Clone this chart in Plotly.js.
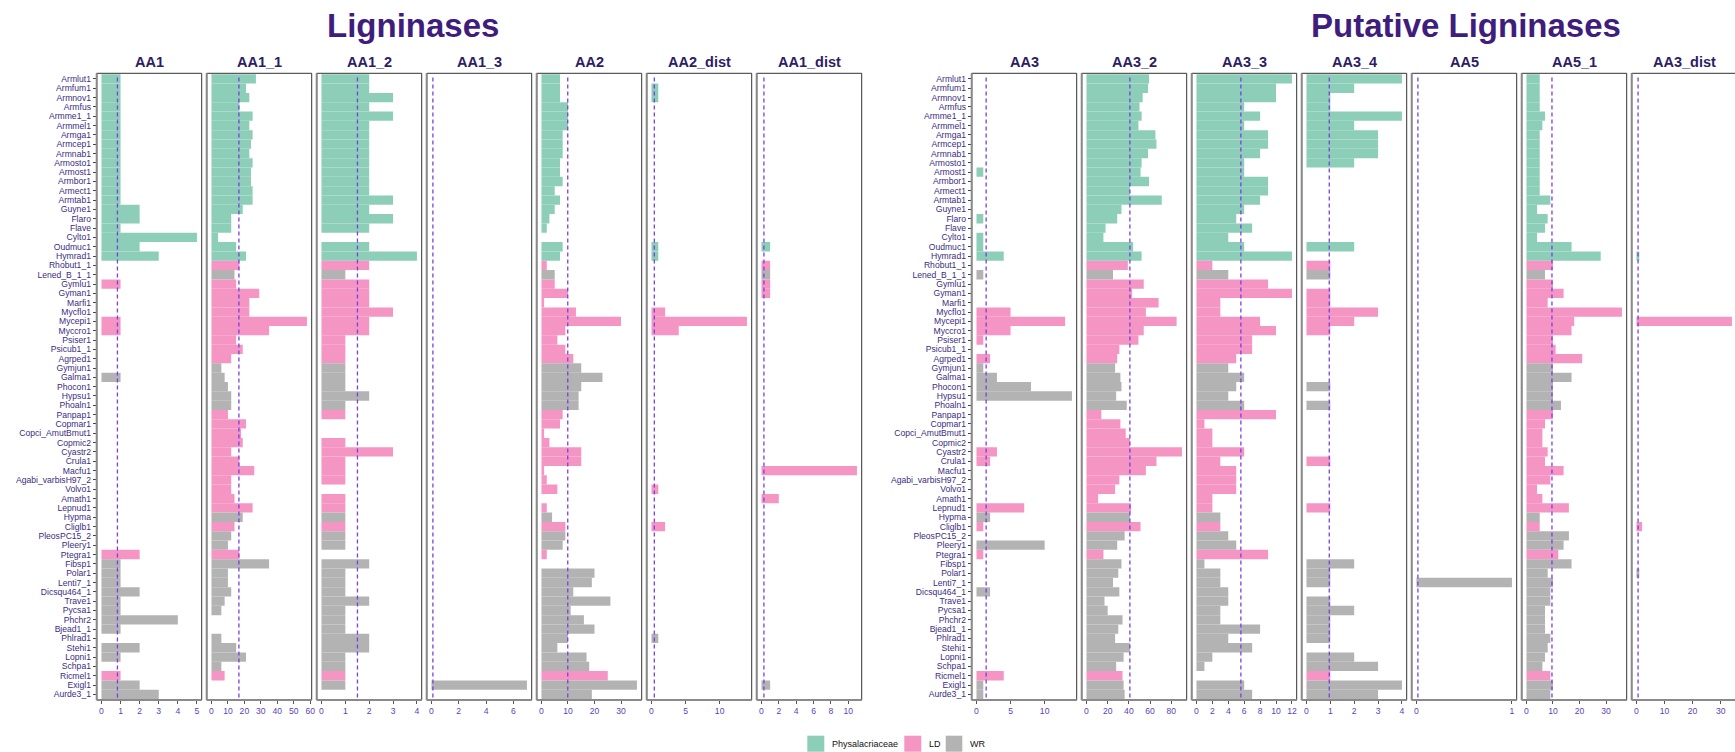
<!DOCTYPE html>
<html><head><meta charset="utf-8">
<script src="https://cdn.plot.ly/plotly-3.0.1.min.js"></script>
<style>html,body{margin:0;padding:0;overflow:hidden;background:#fff}#chart{width:1745px;height:752px}</style>
</head><body><div id="chart"></div>
<script>
const species = ["Armlut1","Armfum1","Armnov1","Armfus","Armme1_1","Armmel1","Armga1","Armcep1","Armnab1","Armosto1","Armost1","Armbor1","Armect1","Armtab1","Guyne1","Flaro","Flave","Cylto1","Oudmuc1","Hymrad1","Rhobut1_1","Lened_B_1_1","Gymlu1","Gyman1","Marfi1","Mycflo1","Mycepi1","Myccro1","Psiser1","Psicub1_1","Agrped1","Gymjun1","Galma1","Phocon1","Hypsu1","Phoaln1","Panpap1","Copmar1","Copci_AmutBmut1","Copmic2","Cyastr2","Crula1","Macfu1","Agabi_varbisH97_2","Volvo1","Amath1","Lepnud1","Hypma","Cliglb1","PleosPC15_2","Pleery1","Ptegra1","Fibsp1","Polar1","Lenti7_1","Dicsqu464_1","Trave1","Pycsa1","Phchr2","Bjead1_1","Phlrad1","Stehi1","Lopni1","Schpa1","Ricmel1","Exigl1","Aurde3_1"];
const P="Physalacriaceae", L="LD", R="WR";
const groups = [P,P,P,P,P,P,P,P,P,P,P,P,P,P,P,P,P,P,P,P,
 L,R,L,L,L,L,L,L,L,L,L,R,R,R,R,R,
 L,L,L,L,L,L,L,L,L,L,L,R,L,R,R,L,
 R,R,R,R,R,R,R,R,R,R,R,R,L,R,R];
const groupNames = [P, L, R];

const panelNames = ["AA1","AA1_1","AA1_2","AA1_3","AA2","AA2_dist","AA1_dist","AA3","AA3_2","AA3_3","AA3_4","AA5","AA5_1","AA3_dist"];

const AA1 = [1,1,1,1,1,1,1,1,1,1,1,1,1,1,2,2,1,5,2,3, 0,0,1,0,0,0,1,1,0,0,0,0,1,0,0,0, 0,0,0,0,0,0,0,0,0,0,0,0,0,0,0,2, 1,1,1,2,1,1,4,1,0,2,1,0,1,2,3];
const AA1_1 = [27,21,23,17,25,23,25,24,23,25,24,24,25,25,19,12,12,4,15,21, 17,14,15,29,23,23,58,35,15,19,12,6,8,10,12,12, 10,21,18,19,12,17,26,12,12,14,25,19,14,12,10,17, 35,10,10,12,8,6,0,0,6,15,21,6,8,0,0];
const AA1_2 = [2,2,3,2,3,2,2,2,2,2,2,2,2,3,2,3,2,0,2,4, 2,1,2,2,2,3,2,2,1,1,1,1,1,1,2,1, 1,0,0,1,3,1,1,1,0,1,1,1,1,1,1,0, 2,1,1,1,2,1,1,1,2,2,1,1,1,1,0];
const AA1_3 = [0,0,0,0,0,0,0,0,0,0,0,0,0,0,0,0,0,0,0,0, 0,0,0,0,0,0,0,0,0,0,0,0,0,0,0,0, 0,0,0,0,0,0,0,0,0,0,0,0,0,0,0,0, 0,0,0,0,0,0,0,0,0,0,0,0,0,7,0];
const AA2 = [7,7,7,10,10,10,8,8,8,7,7,8,5,7,5,3,2,0,8,7, 2,5,5,10,1,13,30,9,6,9,12,15,23,15,14,14, 8,7,1,3,15,15,1,2,6,0,2,4,9,9,8,2, 0,20,19,12,26,11,16,20,10,6,17,18,25,36,19];
const AA2_dist = [0,1,1,0,0,0,0,0,0,0,0,0,0,0,0,0,0,0,1,1, 0,0,0,0,0,2,14,4,0,0,0,0,0,0,0,0, 0,0,0,0,0,0,0,0,1,0,0,0,2,0,0,0, 0,0,0,0,0,0,0,0,1,0,0,0,0,0,0];
const AA1_dist = [0,0,0,0,0,0,0,0,0,0,0,0,0,0,0,0,0,0,1,0, 1,1,1,1,0,0,0,0,0,0,0,0,0,0,0,0, 0,0,0,0,0,0,11,0,0,2,0,0,0,0,0,0, 0,0,0,0,0,0,0,0,0,0,0,0,0,1,0];
const AA3 = [0,0,0,0,0,0,0,0,0,0,1,0,0,0,0,1,0,1,1,4, 0,1,0,0,0,5,13,5,1,0,2,1,3,8,14,0, 0,0,0,0,3,2,0,0,0,0,7,2,1,0,10,1, 0,0,0,2,0,0,0,0,0,0,0,0,4,1,1];
const AA3_2 = [59,58,53,50,52,49,65,66,58,52,51,59,41,71,33,29,18,16,44,52, 39,25,54,43,68,56,85,54,49,31,29,27,32,33,28,38, 14,32,37,41,90,66,56,31,27,11,42,41,51,36,29,16, 33,30,25,31,17,20,34,30,27,41,35,28,34,35,36];
const AA3_3 = [12,10,10,6,8,6,9,9,8,6,6,9,9,8,6,5,7,4,6,12, 2,4,9,12,3,3,8,10,7,7,5,4,6,5,4,6, 10,1,2,2,6,3,5,5,5,2,2,3,3,4,5,9, 1,3,3,4,4,3,3,8,4,7,2,1,0,6,7];
const AA3_4 = [4,2,1,1,4,2,3,3,3,2,0,0,0,0,0,0,0,0,2,0, 1,1,0,1,1,3,2,1,0,0,0,0,0,1,0,1, 0,0,0,0,0,1,0,0,0,0,1,0,0,0,0,0, 2,1,1,0,1,2,1,1,1,0,2,3,1,4,3];
const AA5 = [0,0,0,0,0,0,0,0,0,0,0,0,0,0,0,0,0,0,0,0, 0,0,0,0,0,0,0,0,0,0,0,0,0,0,0,0, 0,0,0,0,0,0,0,0,0,0,0,0,0,0,0,0, 0,0,1,0,0,0,0,0,0,0,0,0,0,0,0];
const AA5_1 = [5,5,5,5,7,6,5,5,5,5,5,5,5,9,4,8,7,4,17,28, 10,7,10,14,8,36,18,17,10,11,21,10,17,10,10,13, 10,7,6,6,8,7,14,9,4,6,16,5,5,16,14,12, 17,8,10,9,9,7,7,7,9,8,7,6,9,10,9];
const AA3_dist = [0,0,0,0,0,0,0,0,0,0,0,0,0,0,0,0,0,0,0,1, 0,0,0,0,0,0,34,0,0,0,0,0,0,0,0,0, 0,0,0,0,0,0,0,0,0,0,0,0,2,0,0,0, 0,1,0,0,0,0,0,0,0,0,0,0,0,0,0];

const panelValues = [AA1,AA1_1,AA1_2,AA1_3,AA2,AA2_dist,AA1_dist,AA3,AA3_2,AA3_3,AA3_4,AA5,AA5_1,AA3_dist];
const panelTicks = [[0,1,2,3,4,5],[0,10,20,30,40,50,60],[0,1,2,3,4],[0,2,4,6],[0,10,20,30],[0,5,10],[0,2,4,6,8,10],
  [0,5,10],[0,20,40,60,80],[0,2,4,6,8,10,12],[0,1,2,3,4],[0,1],[0,10,20,30],[0,10,20,30]];

const W = 1745, H = 752;
const FONT = "Liberation Sans, Arial, sans-serif";
const fill = {"Physalacriaceae":"#8dceb8","LD":"#f495c4","WR":"#b3b3b3"};
const labelColor = "#3b2c82", tickColor = "#5b3fb8", headColor = "#2d1d63", titleColor = "#3f1d7c";
const px = v => v / W, py = v => 1 - v / H;
const yTop = 73.3, yBot = 700;

const traces = [], shapes = [], annotations = [];
const layout = {
  width: W, height: H, margin: {l:0,r:0,t:0,b:0},
  paper_bgcolor: "#fff", plot_bgcolor: "#fff", showlegend: false, barmode: "overlay",
  font: {family: FONT}
};
const yCommon = {
  type: "category", categoryorder: "array", categoryarray: species,
  tickmode: "array", tickvals: species, ticktext: species,
  range: [66.6, -0.6], domain: [py(yBot), py(yTop)],
  showgrid: false, zeroline: false, showline: false,
  ticks: "outside", ticklen: 3, tickcolor: "#444", tickwidth: 1,
  tickfont: {size: 8.6, color: labelColor, family: FONT}, fixedrange: true
};
layout.yaxis = Object.assign({}, yCommon, {anchor: "x"});
layout.yaxis2 = Object.assign({}, yCommon, {anchor: "x8"});

panelNames.forEach((name, i) => {
  const n = i + 1;
  const right = i >= 7;
  const k = right ? i - 7 : i;
  const x0 = (right ? 971.7 : 96.7) + 110 * k, x1 = x0 + 105;
  const xa = n === 1 ? "x" : "x" + n;
  const ya = right ? "y2" : "y";
  const vals = panelValues[i];
  const mx = Math.max(...vals);
  layout["xaxis" + (n === 1 ? "" : n)] = {
    domain: [px(x0), px(x1)], anchor: ya, range: [-0.05 * mx, 1.05 * mx],
    tickmode: "array", tickvals: panelTicks[i], ticktext: panelTicks[i].map(String),
    ticks: "outside", ticklen: 3, tickcolor: "#555", tickwidth: 1,
    tickfont: {size: 8.6, color: tickColor, family: FONT},
    showgrid: false, zeroline: false, showline: false, fixedrange: true
  };
  groupNames.forEach(g => {
    const ys = [], xs = [];
    vals.forEach((v, j) => { if (groups[j] === g && v > 0) { ys.push(species[j]); xs.push(v); } });
    traces.push({
      type: "bar", orientation: "h", x: xs, y: ys, width: 1,
      xaxis: xa, yaxis: ya, name: g, showlegend: false,
      marker: {color: fill[g], line: {width: 0}}, hoverinfo: "x+y"
    });
  });
  if (n === 1 || n === 8) {
    traces.push({type: "scatter", mode: "markers", x: species.map(() => 0), y: species,
      xaxis: xa, yaxis: ya, marker: {opacity: 0, size: 1}, hoverinfo: "skip", showlegend: false});
  }
  const mean = vals.reduce((a, b) => a + b, 0) / vals.length;
  const yd = right ? "y2 domain" : "y domain";
  shapes.push({type: "line", xref: xa, yref: yd, x0: mean, x1: mean, y0: 0.004, y1: 0.996,
    line: {color: "#7a3fe2", width: 1.3, dash: "4px,3px"}, layer: "above"});
  shapes.push({type: "rect", xref: "paper", yref: "paper", x0: px(x0), x1: px(x1), y0: py(yBot), y1: py(yTop),
    line: {color: "#333", width: 1}, layer: "above"});
  shapes.push({type: "line", xref: "paper", yref: "paper", x0: px(x0), x1: px(x0), y0: py(yBot), y1: py(yTop),
    line: {color: "#8a8a8a", width: 2}, layer: "above"});
  shapes.push({type: "line", xref: "paper", yref: "paper", x0: px(x0), x1: px(x1), y0: py(yBot), y1: py(yBot),
    line: {color: "#8a8a8a", width: 2}, layer: "above"});
  annotations.push({text: "<b>" + name + "</b>", xref: "paper", yref: "paper", x: px((x0 + x1) / 2), y: py(62),
    xanchor: "center", yanchor: "middle", showarrow: false, font: {size: 14.5, color: headColor, family: FONT}});
});

annotations.push({text: "<b>Ligninases</b>", xref: "paper", yref: "paper", x: px(412.6), y: py(26),
  xanchor: "center", yanchor: "middle", showarrow: false, font: {size: 33, color: titleColor, family: FONT}});
annotations.push({text: "<b>Putative Ligninases</b>", xref: "paper", yref: "paper", x: px(1465.6), y: py(26),
  xanchor: "center", yanchor: "middle", showarrow: false, font: {size: 33, color: titleColor, family: FONT}});

// legend
const legBoxes = [[807.3, 824.3], [904.3, 921.3], [945.7, 962.3]];
const legText = [830, 926.7, 968.3];
groupNames.forEach((g, i) => {
  shapes.push({type: "rect", xref: "paper", yref: "paper", x0: px(legBoxes[i][0]), x1: px(legBoxes[i][1]),
    y0: py(751.7), y1: py(735.7), fillcolor: fill[g], line: {width: 0}});
  annotations.push({text: g, xref: "paper", yref: "paper", x: px(legText[i]), y: py(743.7),
    xanchor: "left", yanchor: "middle", showarrow: false, font: {size: 9, color: "#111", family: FONT}});
});

layout.shapes = shapes;
layout.annotations = annotations;
Plotly.newPlot("chart", traces, layout, {staticPlot: true, displayModeBar: false});
</script>
</body></html>
